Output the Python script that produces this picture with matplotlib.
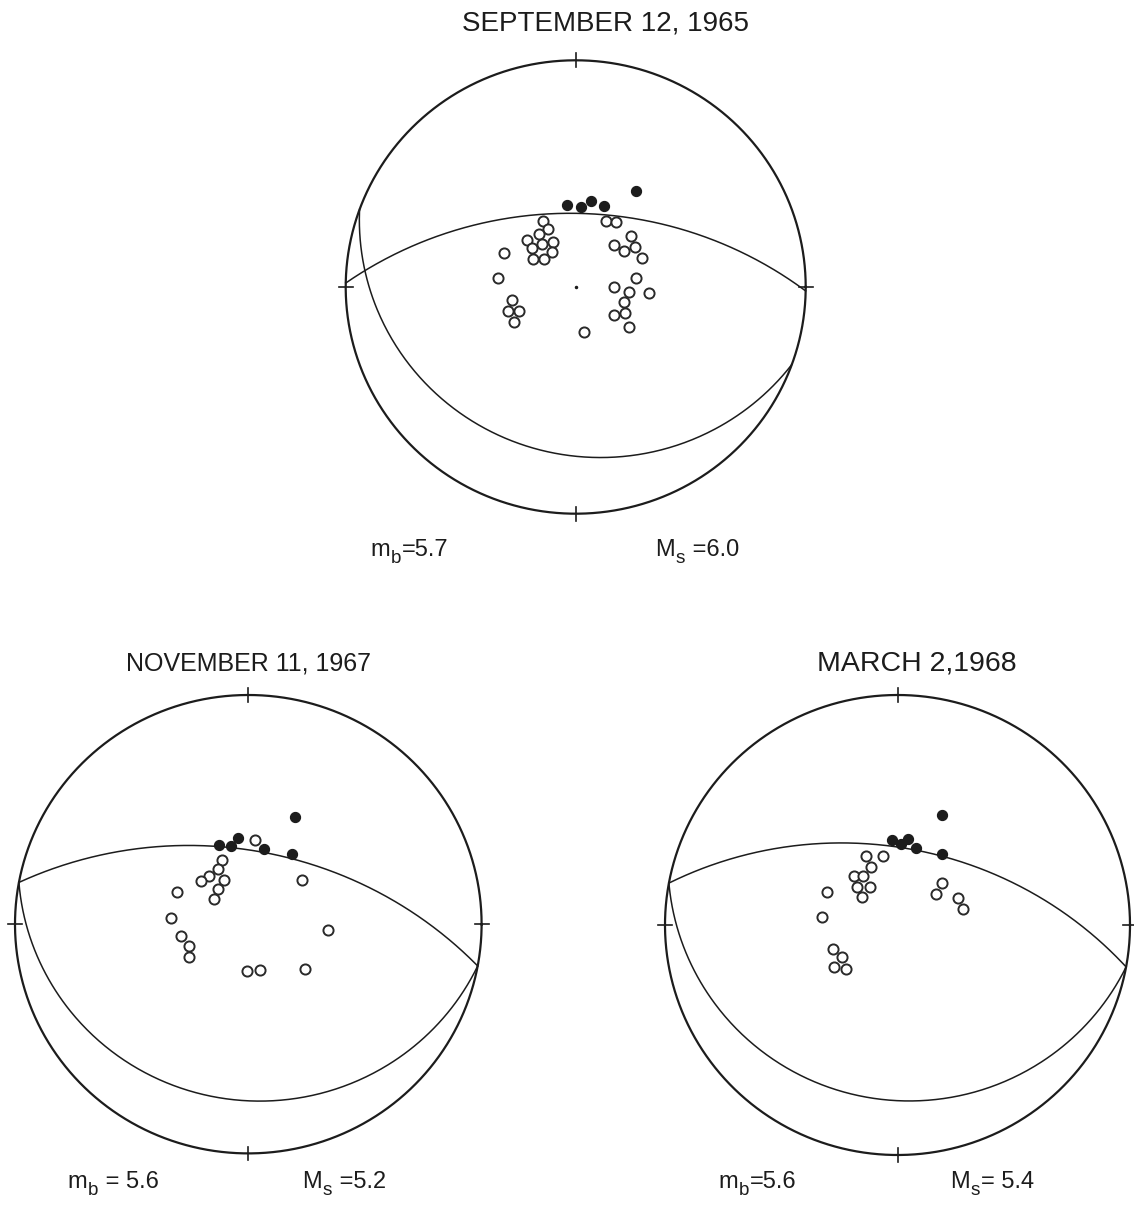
"""
P-wave first-motion focal mechanisms, three events.

Lower-hemisphere stereographic (Wulff) nets. Filled circles are
compressions, open circles dilatations; the two curves are the nodal planes.
"""

import numpy as np
import matplotlib.pyplot as plt

plt.rcParams["font.family"] = ["Liberation Sans", "DejaVu Sans"]

W, H = 1134, 1208

# --- September 12, 1965 -------------------------------------------------
sep65_comp_az = [354, 4, 10, 19, 32]
sep65_comp_toa = [40, 39, 42, 41.5, 53]
sep65_dil_az = [334, 24, 31.5, 335, 326, 314, 334, 323, 312, 295.5, 326, 304,
                311, 47, 42, 55.5, 53, 66, 277, 81, 89.5, 95, 95, 258, 107.5,
                250, 247, 118, 127, 240.5, 127.5, 170]
sep65_dil_toa = [36, 35.5, 37, 31.5, 31.5, 33, 25, 27, 28.5, 38, 21, 25,
                 21, 36.5, 28, 34.5, 29.5, 35, 37.5, 29.5, 19, 26, 35.5, 31.5, 25,
                 35, 30, 27.5, 23.5, 34.5, 32.5, 23]
sep65_planes = [(271, 54), (110, 17.5)]          # (strike, dip), dip to the right
sep65_mag = [("m", "b", "=5.7"), ("M", "s", " =6.0")]

# --- November 11, 1967 --------------------------------------------------
nov67_comp_az = [23, 353.5, 340, 347.5, 11.5, 31.5]
nov67_comp_toa = [54, 41.5, 40.5, 38.5, 37, 39.5]
nov67_dil_az = [4.5, 338, 331.5, 321.5, 331.5, 312.5, 320, 294.5, 306.5, 50,
                275, 94.5, 260, 249.5, 240.5, 181, 165.5, 129]
nov67_dil_toa = [40.5, 33.5, 30.5, 30, 25, 31, 22.5, 37, 21, 33.5,
                 37, 38, 32.5, 30.5, 32.5, 23, 23.5, 34.5]
nov67_planes = [(280.5, 54.5), (100.5, 15)]
nov67_mag = [("m", "b", " = 5.6"), ("M", "s", " =5.2")]

# --- March 2, 1968 ------------------------------------------------------
mar68_comp_az = [22, 356, 2.5, 7, 13, 31.5]
mar68_comp_toa = [54.5, 40.5, 39, 41.5, 38, 40]
mar68_dil_az = [336, 348, 335.5, 319, 325, 313, 324.5, 308, 295, 276.5,
                46, 50.5, 65.5, 76.5, 249, 239.5, 236, 229]
mar68_dil_toa = [36.5, 34, 31, 31.5, 29, 27, 23, 22, 37, 36,
                 29.5, 24, 32, 32.5, 33, 31, 36.5, 32.5]
mar68_planes = [(280.5, 53), (100.5, 15.5)]
mar68_mag = [("m", "b", "=5.6"), ("M", "s", "= 5.4")]

INK = "#1c1c1c"


def project_station(az, toa):
    az = np.radians(az)
    r = np.tan(np.radians(toa) / 2)
    return r * np.sin(az), r * np.cos(az)


def great_circle(strike, dip, n=300):
    s, d = np.radians(strike), np.radians(dip)
    t = np.linspace(0, np.pi, n)
    # east, north, down components of lines lying in the plane
    sv = np.array([np.sin(s), np.cos(s), 0.0])
    dv = np.array([np.cos(d) * np.sin(s + np.pi / 2),
                   np.cos(d) * np.cos(s + np.pi / 2),
                   np.sin(d)])
    v = np.outer(np.cos(t), sv) + np.outer(np.sin(t), dv)
    return v[:, 0] / (1 + v[:, 2]), v[:, 1] / (1 + v[:, 2])


def net(fig, cx, cy, rx, ry, comp, dil, planes, centre_dot=False):
    pad = 1.1
    ax = fig.add_axes([(cx - pad * rx) / W, (H - cy - pad * ry) / H,
                       2 * pad * rx / W, 2 * pad * ry / H])
    ax.set_xlim(-pad, pad)
    ax.set_ylim(-pad, pad)
    ax.axis("off")

    th = np.linspace(0, 2 * np.pi, 400)
    ax.plot(np.cos(th), np.sin(th), color=INK, lw=1.6)
    k = 0.03
    for x0, y0 in [(0, 1), (0, -1)]:
        ax.plot([x0, x0], [y0 - k, y0 + k], color=INK, lw=1.2)
    for x0, y0 in [(1, 0), (-1, 0)]:
        ax.plot([x0 - k, x0 + k], [y0, y0], color=INK, lw=1.2)

    for strike, dip in planes:
        gx, gy = great_circle(strike, dip)
        ax.plot(gx, gy, color=INK, lw=1.1)

    x, y = project_station(*dil)
    ax.plot(x, y, "o", ms=7.3, mfc="white", mec="#2a2a2a", mew=1.4, ls="none")
    x, y = project_station(*comp)
    ax.plot(x, y, "o", ms=7.3, mfc=INK, mec=INK, mew=0.8, ls="none")
    if centre_dot:
        ax.plot([0], [0], "o", ms=1.5, color=INK)
    return ax


def label(fig, px, py, s, size, ha="left"):
    return fig.text(px / W, 1 - py / H, s, fontsize=size, ha=ha, va="baseline",
                    color=INK)


def magnitude(fig, px, py, parts, size=17):
    # symbol, dropped subscript, then the value
    sym, sub, rest = parts
    r = fig.canvas.get_renderer()
    t = label(fig, px, py, sym, size)
    x = t.get_window_extent(r).x1 + 1
    t = label(fig, x, py + 0.42 * size, sub, 0.8 * size)
    x = t.get_window_extent(r).x1 + 1
    label(fig, x, py, rest, size)


fig = plt.figure(figsize=(W / 100, H / 100), dpi=100)

net(fig, 575.7, 287, 230, 226.7,
    (sep65_comp_az, sep65_comp_toa), (sep65_dil_az, sep65_dil_toa),
    sep65_planes, centre_dot=True)
net(fig, 248.3, 924.2, 233.3, 229.2,
    (nov67_comp_az, nov67_comp_toa), (nov67_dil_az, nov67_dil_toa),
    nov67_planes)
net(fig, 897.5, 925, 232.5, 230,
    (mar68_comp_az, mar68_comp_toa), (mar68_dil_az, mar68_dil_toa),
    mar68_planes)

label(fig, 605, 31, "SEPTEMBER 12, 1965", 20, ha="center")
label(fig, 249, 671, "NOVEMBER 11, 1967", 18, ha="center")
label(fig, 917, 671, "MARCH 2,1968", 20.5, ha="center")

magnitude(fig, 370, 556, sep65_mag[0])
magnitude(fig, 655, 556, sep65_mag[1])
magnitude(fig, 67, 1188, nov67_mag[0])
magnitude(fig, 302, 1188, nov67_mag[1])
magnitude(fig, 718, 1188, mar68_mag[0])
magnitude(fig, 950, 1188, mar68_mag[1])

fig.savefig("out.png", dpi=100, facecolor="white")
